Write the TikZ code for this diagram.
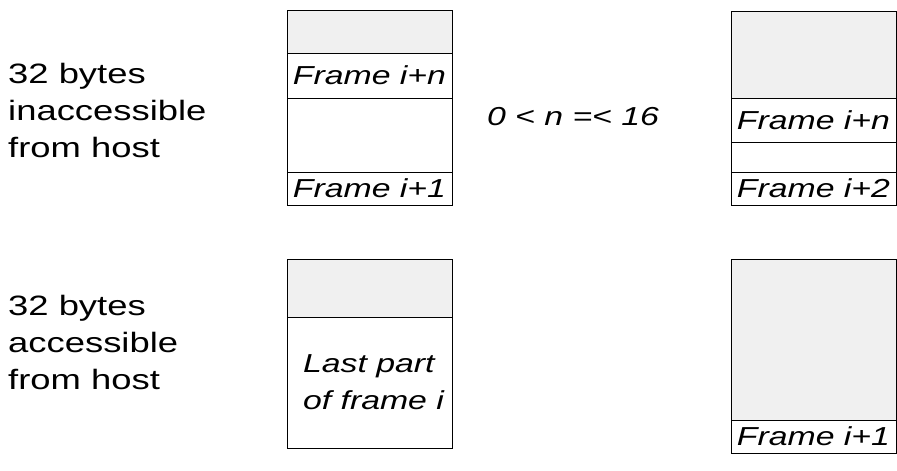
\documentclass[tikz,border=0pt]{standalone}
\usepackage{fontspec}
\setmainfont[FakeStretch=1.3]{Liberation Sans}
\usepackage{tikz}
\usetikzlibrary{positioning}
\definecolor{boxgray}{HTML}{F0F0F0}

\begin{document}
\begin{tikzpicture}[x=1pt, y=-1pt,
  cell/.style={rectangle, draw=black, line width=0.8pt, minimum width=165pt, inner sep=0pt, outer sep=0pt, font=\fontsize{26}{37}\selectfont\itshape},
  grey/.style={cell, fill=boxgray},
  note/.style={inner sep=0pt, align=left, font=\fontsize{28}{37}\selectfont},]
\useasboundingbox (0,0) rectangle (897,471);
%Labels
\node[note, anchor=west] (inacc) at (8,110) {32 bytes\\inaccessible\\from host};
\node[note, anchor=west] (acc) at (8,342) {32 bytes\\accessible\\from host};
\node[note, anchor=base, font=\fontsize{26}{37}\selectfont\itshape] (range) at (573,125) {0 < n =< 16};

%Upper left buffer
\node[grey, minimum height=43pt, anchor=north west] (a1) at (287,10) {};
\node[cell, minimum height=45pt] (a2) [below=0pt of a1] {Frame i+n};
\node[cell, minimum height=74pt] (a3) [below=0pt of a2] {};
\node[cell, minimum height=33pt] (a4) [below=0pt of a3] {Frame i+1};

%Upper right buffer
\node[grey, minimum height=87pt, anchor=north west] (b1) at (731,11) {};
\node[cell, minimum height=44pt] (b2) [below=0pt of b1] {Frame i+n};
\node[cell, minimum height=30pt] (b3) [below=0pt of b2] {};
\node[cell, minimum height=33pt] (b4) [below=0pt of b3] {Frame i+2};

%Lower left buffer
\node[grey, minimum height=58pt, anchor=north west] (c1) at (287,259) {};
\node[cell, minimum height=131pt, align=left] (c2) [below=0pt of c1] {\hspace*{8pt}Last part\\\hspace*{8pt}of frame i};

%Lower right buffer
\node[grey, minimum height=161pt, anchor=north west] (d1) at (731,259) {};
\node[cell, minimum height=33pt] (d2) [below=0pt of d1] {Frame i+1};

\end{tikzpicture}
\end{document}
